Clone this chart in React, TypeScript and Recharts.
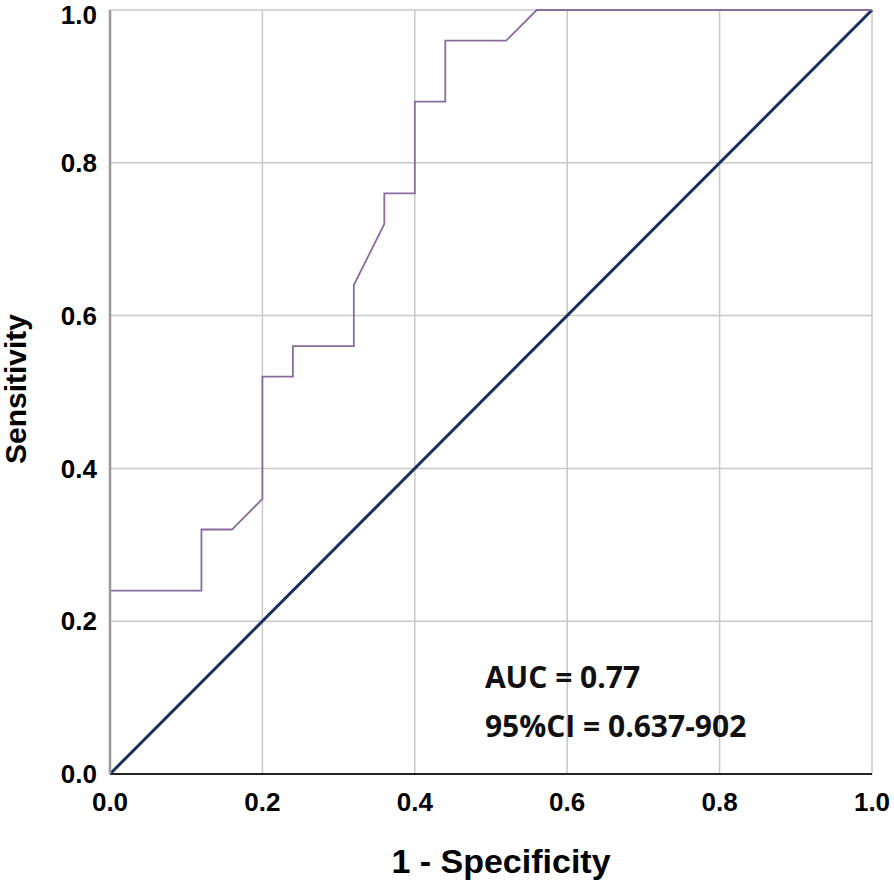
import React from "react";
import { LineChart, Line, XAxis, YAxis, CartesianGrid, ReferenceDot, Label } from "recharts";

const rocX = [0, 0, 0.12, 0.12, 0.16, 0.2, 0.2, 0.24, 0.24, 0.32, 0.32, 0.36, 0.36, 0.4, 0.4, 0.44, 0.44, 0.52, 0.56, 1];
const rocY = [0, 0.24, 0.24, 0.32, 0.32, 0.36, 0.52, 0.52, 0.56, 0.56, 0.64, 0.72, 0.76, 0.76, 0.88, 0.88, 0.96, 0.96, 1, 1];
const refX = [0, 1];
const refY = [0, 1];
const ticks = [0, 0.2, 0.4, 0.6, 0.8, 1.0];
const annotation = ["AUC = 0.77", "95%CI = 0.637-902"];
const xTitle = "1 - Specificity";
const yTitle = "Sensitivity";

const rocData = rocX.map((x, i) => ({ x, y: rocY[i] }));
const refData = refX.map((x, i) => ({ x, y: refY[i] }));

const tickFont = { fontFamily: "'Liberation Sans', Arial, sans-serif", fontWeight: 700, fontSize: 26, fill: "#000" };

const AnnotationLabel = (props: any) => {
  const { viewBox } = props;
  const x = viewBox.x;
  const y = viewBox.y;
  return (
    <g>
      <text x={x} y={y} fontFamily="'Open Sans', sans-serif" fontWeight={700} fontSize={30} fill="#111">{annotation[0]}</text>
      <text x={x} y={y + 49} fontFamily="'Open Sans', sans-serif" fontWeight={700} fontSize={30} fill="#111">{annotation[1]}</text>
    </g>
  );
};

const XTitle = (props: any) => {
  const { viewBox } = props;
  return (
    <text
      x={viewBox.x + viewBox.width / 2 + 10}
      y={viewBox.y + 99}
      textAnchor="middle"
      fontFamily="'Liberation Sans', Arial, sans-serif"
      fontWeight={700}
      fontSize={34}
      fill="#000"
    >
      {xTitle}
    </text>
  );
};

const YTitle = (props: any) => {
  const { viewBox } = props;
  const cx = viewBox.x + 25.5;
  const cy = viewBox.y + viewBox.height / 2 - 3;
  return (
    <text
      x={cx}
      y={cy}
      transform={`rotate(-90, ${cx}, ${cy})`}
      textAnchor="middle"
      fontFamily="'Liberation Sans', Arial, sans-serif"
      fontWeight={700}
      fontSize={30}
      fill="#000"
    >
      {yTitle}
    </text>
  );
};

export default function App() {
  return (
    <div style={{ position: "absolute", left: 0, top: 0, width: 894, height: 888, background: "#fff" }}>
      <LineChart width={894} height={888} margin={{ top: 10, right: 22, bottom: 0, left: 0 }}>
        <CartesianGrid stroke="#c8c8c8" strokeWidth={1.5} horizontalValues={ticks} verticalValues={ticks} />
        <XAxis
          type="number"
          dataKey="x"
          domain={[0, 1]}
          ticks={ticks}
          tickFormatter={(v: number) => v.toFixed(1)}
          tick={tickFont}
          tickLine={false}
          axisLine={{ stroke: "#222", strokeWidth: 2 }}
          height={114}
          tickMargin={13}
        >
          <Label content={<XTitle />} />
        </XAxis>
        <YAxis
          type="number"
          dataKey="y"
          domain={[0, 1]}
          ticks={ticks}
          tickFormatter={(v: number) => v.toFixed(1)}
          tick={tickFont}
          tickLine={false}
          axisLine={{ stroke: "#999", strokeWidth: 2.5 }}
          width={110}
          tickMargin={7}
        >
          <Label content={<YTitle />} />
        </YAxis>
        <Line data={refData} dataKey="y" stroke="#1b2f5f" strokeWidth={3} dot={false} isAnimationActive={false} />
        <Line data={rocData} dataKey="y" stroke="#8a6c9e" strokeWidth={1.8} dot={false} isAnimationActive={false} />
        <ReferenceDot x={0.492} y={0.1126} r={0} fill="none" stroke="none" label={<AnnotationLabel />} />
      </LineChart>
    </div>
  );
}
